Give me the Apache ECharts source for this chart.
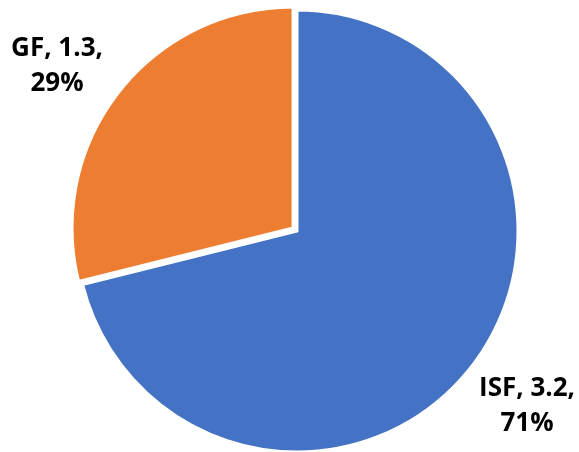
<!DOCTYPE html>
<html>
<head>
<meta charset="utf-8">
<script src="https://cdn.jsdelivr.net/npm/echarts@6/dist/echarts.min.js"></script>
<style>
html,body{margin:0;padding:0;background:#fff;}
#main{width:579px;height:452px;}
</style>
</head>
<body>
<div id="main"></div>
<script>
const categories = ['ISF', 'GF'];
const values = [3.2, 1.3];
const colors = ['#4472C4', '#ED7D31'];

const chart = echarts.init(document.getElementById('main'), null, {renderer: 'canvas'});
const labelPos = [[527, 406], [57, 66]];
const baseCenter = [297, 231];
const explode = [0, 5]; // px offset of each slice along its mid-angle

// compute mid-angle of each slice from the data to place exploded slices
const total = values.reduce((a, b) => a + b, 0);
let acc = 0;
const centers = values.map((v, i) => {
  const startDeg = 90 - acc / total * 360;
  acc += v;
  const endDeg = 90 - acc / total * 360;
  const mid = (startDeg + endDeg) / 2 * Math.PI / 180;
  return [baseCenter[0] + explode[i] * Math.cos(mid), baseCenter[1] - explode[i] * Math.sin(mid)];
});

const series = categories.map((name, k) => ({
  type: 'pie',
  center: centers[k],
  radius: 221,
  startAngle: 90,
  clockwise: true,
  selectedMode: false,
  percentPrecision: 0,
  avoidLabelOverlap: false,
  emphasis: {disabled: true},
  label: {
    show: true,
    position: 'inside',
    formatter: '{b}, {c},\n{d}%',
    fontFamily: 'Open Sans',
    fontWeight: 'bold',
    fontSize: 26,
    lineHeight: 35,
    color: '#000000',
    align: 'center',
    verticalAlign: 'middle'
  },
  labelLine: {show: false},
  labelLayout: function (p) {
    const pos = labelPos[p.dataIndex];
    return {x: pos[0], y: pos[1], align: 'center', verticalAlign: 'middle'};
  },
  data: categories.map((c, i) => ({
    name: c,
    value: values[i],
    itemStyle: i === k
      ? {color: colors[i], borderColor: '#ffffff', borderWidth: 3}
      : {color: 'rgba(0,0,0,0)', borderWidth: 0},
    label: {show: i === k}
  }))
}));

chart.setOption({animation: false, series: series});
</script>
</body>
</html>
